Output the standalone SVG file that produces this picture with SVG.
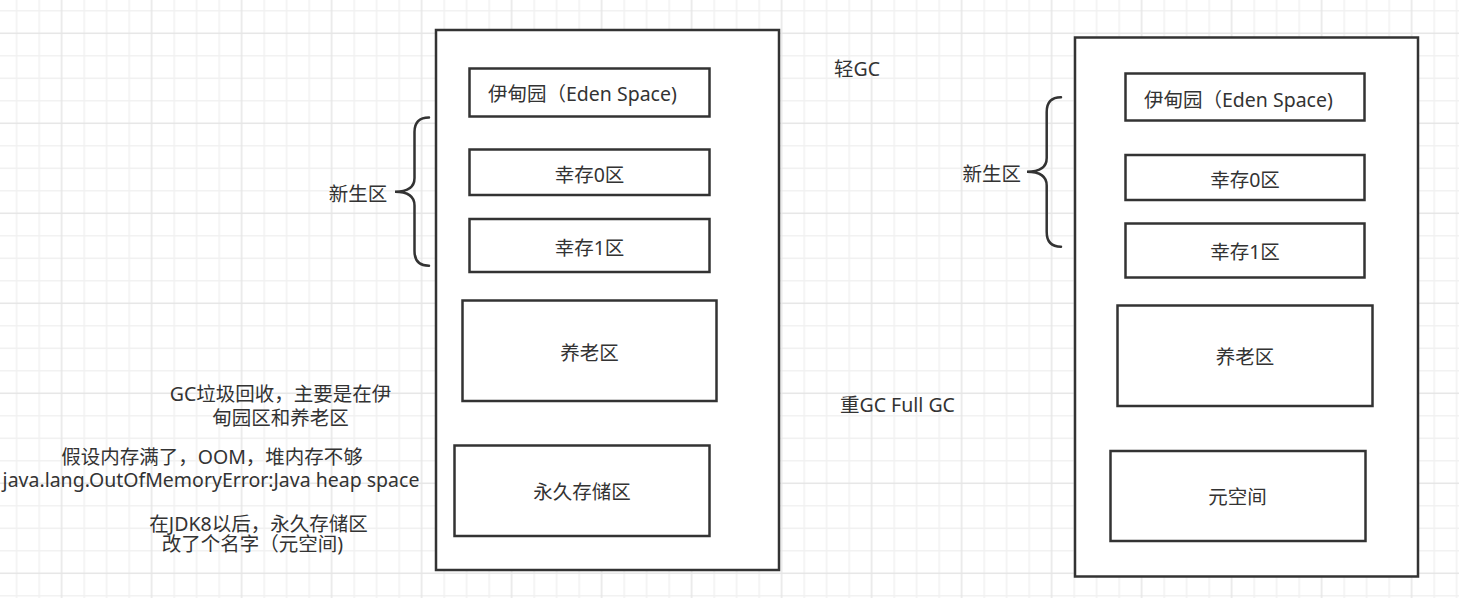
<svg xmlns="http://www.w3.org/2000/svg" width="1459" height="598" viewBox="0 0 1459 598">
<defs>
<pattern id="grid" patternUnits="userSpaceOnUse" x="50.45" y="22.05" width="90" height="90">
<path d="M33.75 0V90M56.25 0V90M78.75 0V90M0 33.75H90M0 56.25H90M0 78.75H90" stroke="#f1f1f1" stroke-width="1.5" fill="none"/>
<path d="M11.25 0V90M0 11.25H90" stroke="#e6e6e6" stroke-width="1.5" fill="none"/>
</pattern>
</defs>
<style>
.box{fill:#fff;stroke:#333;stroke-width:2.5}
.brace{fill:none;stroke:#333;stroke-width:2.5;stroke-linecap:round}
text{font-family:"Noto Sans","Noto Sans CJK SC",sans-serif;font-size:19.5px;fill:#333}
.c{text-anchor:middle}
</style>
<rect width="1459" height="598" fill="#fff"/>
<rect width="1459" height="598" fill="url(#grid)"/>

<g id="heap-left">
<rect class="box" x="436" y="30" width="343" height="540"/>
</g>
<g id="eden-left">
<rect class="box" x="469.5" y="68.5" width="240" height="48"/>
<text x="488" y="101">伊甸园（Eden Space)</text>
</g>
<g id="s0-left">
<rect class="box" x="469.5" y="149.5" width="240" height="45.5"/>
<text class="c" x="589.5" y="182">幸存0区</text>
</g>
<g id="s1-left">
<rect class="box" x="469.5" y="219" width="240" height="53"/>
<text class="c" x="589.5" y="255">幸存1区</text>
</g>
<g id="old-left">
<rect class="box" x="462.5" y="300.5" width="254" height="100.5"/>
<text class="c" x="589.5" y="359.5">养老区</text>
</g>
<g id="perm-left">
<rect class="box" x="454.5" y="445.5" width="255" height="90.5"/>
<text class="c" x="582" y="499">永久存储区</text>
</g>

<g id="heap-right">
<rect class="box" x="1075" y="37.5" width="343" height="539"/>
</g>
<g id="eden-right">
<rect class="box" x="1125.5" y="73.5" width="239" height="47"/>
<text x="1144" y="107">伊甸园（Eden Space)</text>
</g>
<g id="s0-right">
<rect class="box" x="1125.5" y="155" width="239" height="45"/>
<text class="c" x="1245" y="187">幸存0区</text>
</g>
<g id="s1-right">
<rect class="box" x="1125.5" y="223.5" width="239" height="54"/>
<text class="c" x="1245" y="259">幸存1区</text>
</g>
<g id="old-right">
<rect class="box" x="1117.5" y="305.5" width="255" height="100.5"/>
<text class="c" x="1245" y="364">养老区</text>
</g>
<g id="meta-right">
<rect class="box" x="1110.5" y="451" width="255" height="90"/>
<text class="c" x="1237.5" y="504">元空间</text>
</g>

<g id="connectors">
<path class="brace" d="M429 117.5Q414.5 117.5 414.5 132L414.5 178Q414.5 191.7 395 191.7Q414.5 191.7 414.5 205.5L414.5 251Q414.5 265.7 429 265.7"/>
<path class="brace" d="M1061 97.3Q1046.7 97.3 1046.7 112L1046.7 158Q1046.7 171.7 1027 171.7Q1046.7 171.7 1046.7 185.5L1046.7 232Q1046.7 246.7 1061 246.7"/>
</g>

<g id="labels">
<text class="c" x="358" y="201">新生区</text>
<text class="c" x="991.7" y="181">新生区</text>
<text x="834" y="76">轻GC</text>
<text x="840" y="412">重GC Full GC</text>
<text class="c" x="280.5" y="401">GC垃圾回收，主要是在伊</text>
<text class="c" x="280.5" y="425">甸园区和养老区</text>
<text class="c" x="212" y="464">假设内存满了，OOM，堆内存不够</text>
<text class="c" x="211" y="487">java.lang.OutOfMemoryError:Java heap space</text>
<text class="c" x="258.5" y="531">在JDK8以后，永久存储区</text>
<text class="c" x="252.5" y="551">改了个名字（元空间)</text>
</g>
</svg>
